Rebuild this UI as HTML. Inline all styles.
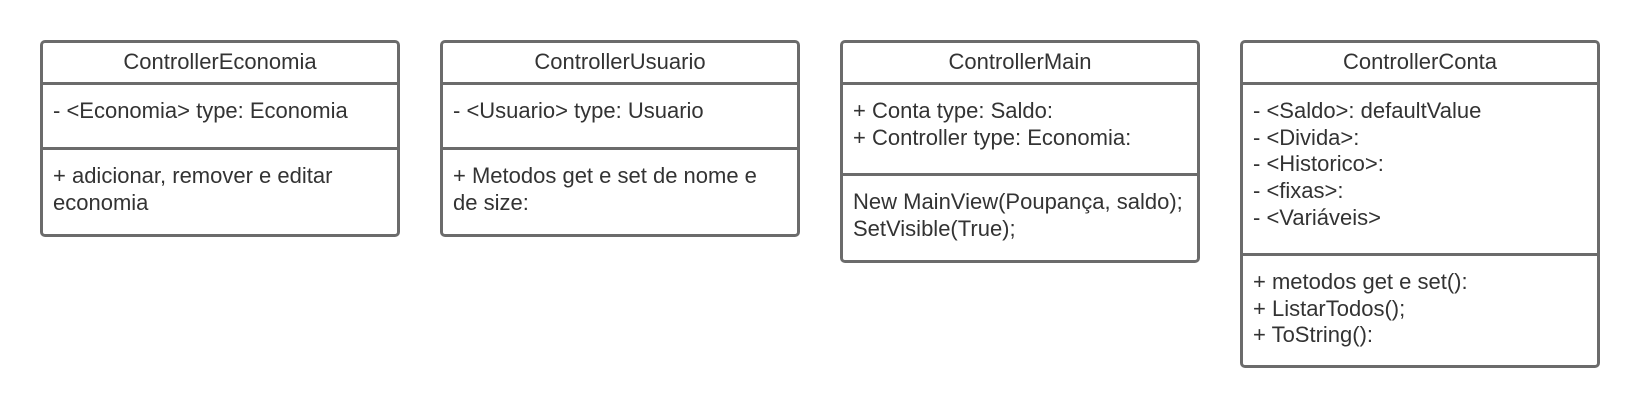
<!DOCTYPE html>
<html><head><meta charset="utf-8"><style>
body{margin:0;width:1640px;height:411px;background:#fff;position:relative;font-family:"Liberation Sans",sans-serif;color:#333;font-size:22px}
.b{position:absolute;top:40px;width:360px;border:3px solid #6b6b6b;border-radius:5px;box-sizing:border-box}
.h{height:42px;border-bottom:3px solid #6b6b6b;box-sizing:border-box;text-align:center;line-height:38px}
.s{border-bottom:3px solid #6b6b6b;box-sizing:border-box;padding:13px 10px 0 10px;line-height:26.7px}
.m{padding:13px 10px 0 10px;line-height:26.7px}
</style></head><body>
<div class="b" style="left:40px;height:197px"><div class="h">ControllerEconomia</div><div class="s" style="height:65px">- &lt;Economia&gt; type: Economia</div><div class="m">+ adicionar, remover e editar<br>economia</div></div>
<div class="b" style="left:440px;height:197px"><div class="h">ControllerUsuario</div><div class="s" style="height:65px">- &lt;Usuario&gt; type: Usuario</div><div class="m">+ Metodos get e set de nome e<br>de size:</div></div>
<div class="b" style="left:840px;height:223px"><div class="h">ControllerMain</div><div class="s" style="height:91px">+ Conta type: Saldo:<br>+ Controller type: Economia:</div><div class="m">New MainView(Poupança, saldo);<br>SetVisible(True);</div></div>
<div class="b" style="left:1240px;height:328px"><div class="h">ControllerConta</div><div class="s" style="height:171px">- &lt;Saldo&gt;: defaultValue<br>- &lt;Divida&gt;:<br>- &lt;Historico&gt;:<br>- &lt;fixas&gt;:<br>- &lt;Variáveis&gt;</div><div class="m">+ metodos get e set():<br>+ ListarTodos();<br>+ ToString():</div></div>
</body></html>
